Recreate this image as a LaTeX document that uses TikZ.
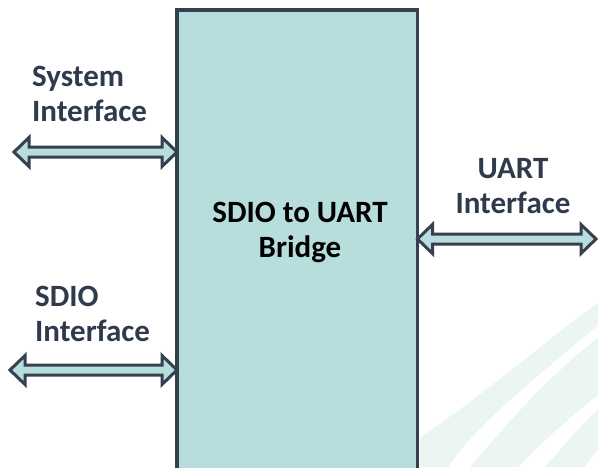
\documentclass[tikz,border=0pt]{standalone}
\usepackage{fontspec}
\setmainfont{Carlito}
\usetikzlibrary{calc,positioning}

\definecolor{boxfill}{HTML}{B7DEDD}
\definecolor{boxline}{HTML}{364050}
\definecolor{labeltext}{HTML}{2F3B4D}
\definecolor{swoosh}{HTML}{EAF5F4}

% fat double-headed bus arrow between two points on one row
\newcommand{\busarrow}[2]{%
  \draw[bus] let \p1=(#1), \p2=(#2) in
    (\x1,\y1) -- (\x1+15pt,\y1+14.5pt) -- (\x1+15pt,\y1+5pt)
    -- (\x2-15pt,\y1+5pt) -- (\x2-15pt,\y1+14.5pt) -- (\x2,\y1)
    -- (\x2-15pt,\y1-14.5pt) -- (\x2-15pt,\y1-5pt)
    -- (\x1+15pt,\y1-5pt) -- (\x1+15pt,\y1-14.5pt) -- cycle;}

\begin{document}
\begin{tikzpicture}
                    [x=1pt, y=-1pt, font=\fontsize{31}{35}\selectfont\bfseries]
                    \tikzset{bridgebox/.style = {draw=boxline, fill=boxfill, line width=3.5pt, outer sep=0pt},
                             bus/.style = {draw=boxline, fill=boxfill, line width=3pt, line join=miter},
                             iflabel/.style = {text=labeltext, inner sep=0pt}}
                    \useasboundingbox (0,0) rectangle (598,467);

                    % faint background swooshes
                    \fill[swoosh] (420,437) .. controls (475,402) and (540,345) .. (598,303)
                        -- (598,325) .. controls (540,375) and (480,420) .. (448,467) -- (420,467) -- cycle;
                    \fill[swoosh] (470,467) .. controls (510,420) and (550,375) .. (598,338)
                        -- (598,395) .. controls (560,425) and (535,450) .. (518,467) -- cycle;
                    \fill[swoosh] (545,467) .. controls (565,445) and (580,425) .. (598,410)
                        -- (598,450) .. controls (592,455) and (588,462) .. (585,467) -- cycle;

                    \node[bridgebox, anchor=north west, minimum width=240.5pt, minimum height=470pt] (bridge) at (177,10) {};
                    \node[align=center, inner sep=0pt, anchor=base] (bridgetext) at (300,257) {SDIO to UART\\Bridge};

                    \coordinate (sysEnd)  at (14,152);
                    \coordinate (sdioEnd) at (10,370);
                    \coordinate (uartEnd) at (596,239);

                    \busarrow{sysEnd}{bridge.west |- sysEnd}
                    \busarrow{sdioEnd}{bridge.west |- sdioEnd}
                    \busarrow{bridge.east |- uartEnd}{uartEnd}

                    \node[iflabel, align=left, anchor=base west] (syslabel)  at (32,121) {System\\Interface};
                    \node[iflabel, align=left, anchor=base west] (sdiolabel) at (35,341) {SDIO\\Interface};
                    \node[iflabel, align=center, anchor=base] (uartlabel) at (513,213) {UART\\Interface};
                \end{tikzpicture}
\end{document}
